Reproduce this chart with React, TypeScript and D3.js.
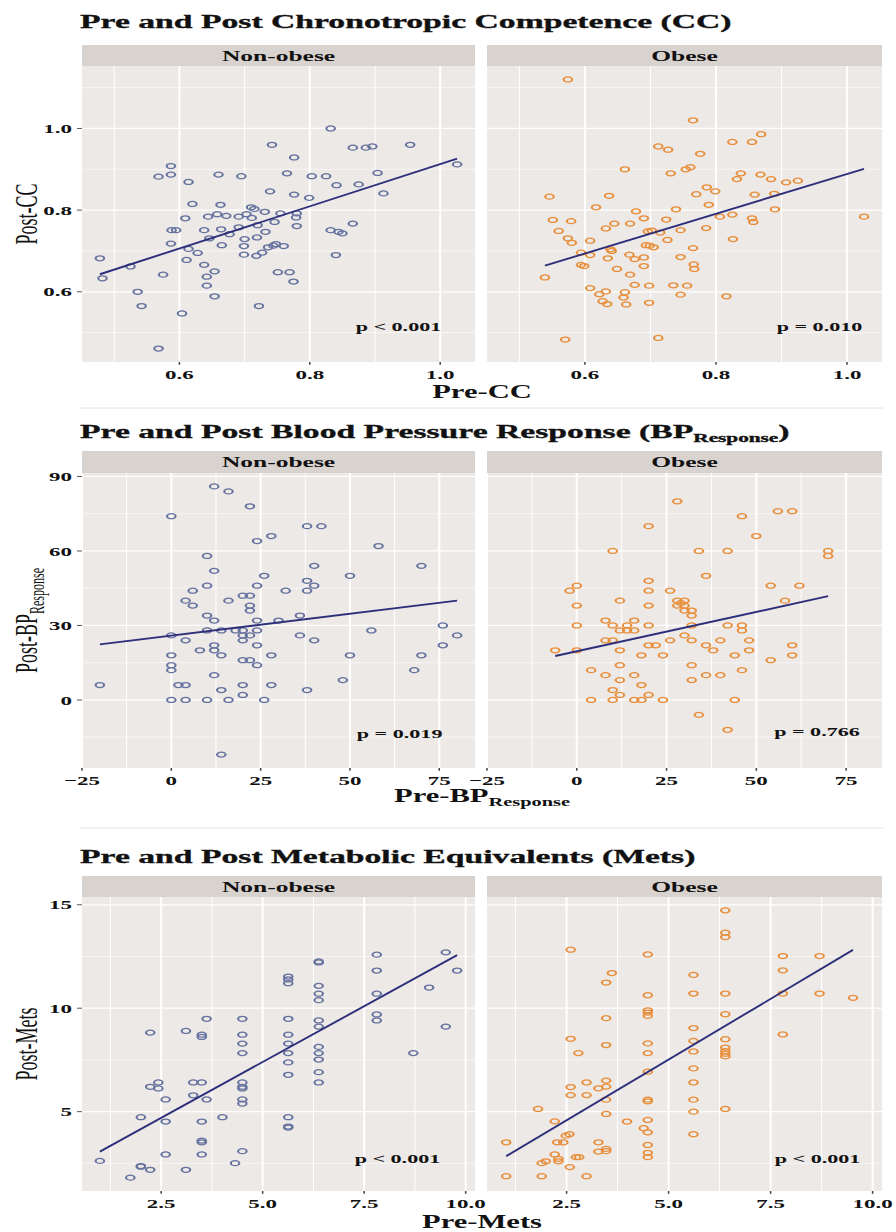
import * as d3 from "d3";

// the source figure was stretched sideways, so glyphs and dots come out wide
const SX = 1.7;
const SERIF = "'Liberation Serif', 'Times New Roman', serif";

const groups = ["Non-obese", "Obese"];
const dotColours = ["#66739f", "#e88f3c"];
const fitColour = "#2d2f7b";
const panelFill = "#ede9e7";
const stripFill = "#d9d3cf";

// ---- chronotropic competence ----
const ccNonObesePre = [0.478,0.482,0.525,0.536,0.542,0.568,0.568,0.575,0.587,0.587,0.587,0.588,0.595,0.604,0.609,0.611,0.614,0.614,0.620,0.628,0.638,0.638,0.642,0.642,0.644,0.646,0.654,0.654,0.658,0.660,0.663,0.664,0.665,0.672,0.677,0.691,0.691,0.695,0.699,0.699,0.700,0.703,0.710,0.711,0.715,0.718,0.719,0.720,0.722,0.727,0.731,0.732,0.736,0.739,0.742,0.744,0.746,0.748,0.751,0.755,0.760,0.765,0.769,0.775,0.776,0.776,0.779,0.780,0.780,0.799,0.803,0.825,0.832,0.832,0.840,0.841,0.844,0.850,0.866,0.866,0.875,0.886,0.896,0.904,0.913,0.954,1.026];
const ccNonObesePost = [0.682,0.633,0.662,0.600,0.565,0.882,0.461,0.642,0.908,0.887,0.718,0.751,0.751,0.547,0.780,0.678,0.869,0.705,0.815,0.695,0.751,0.666,0.637,0.615,0.784,0.731,0.650,0.589,0.790,0.887,0.813,0.753,0.714,0.786,0.741,0.784,0.758,0.883,0.712,0.691,0.729,0.790,0.807,0.781,0.803,0.688,0.733,0.763,0.565,0.696,0.796,0.747,0.709,0.846,0.960,0.713,0.771,0.717,0.648,0.792,0.712,0.890,0.648,0.625,0.929,0.838,0.782,0.761,0.792,0.830,0.883,0.883,1.000,0.751,0.690,0.861,0.747,0.743,0.953,0.767,0.863,0.953,0.956,0.891,0.841,0.960,0.912];
const ccObesePre = [0.574,0.765,0.869,0.825,0.855,0.712,0.727,0.776,0.661,0.754,0.761,0.731,0.838,0.832,0.868,0.884,0.907,0.925,0.546,0.637,0.770,0.786,0.799,0.859,0.889,0.617,0.789,0.739,0.890,0.551,0.579,0.678,0.690,0.724,0.806,0.825,0.855,0.857,1.026,0.560,0.632,0.645,0.669,0.696,0.702,0.715,0.746,0.785,0.574,0.580,0.608,0.594,0.608,0.639,0.641,0.635,0.693,0.699,0.705,0.726,0.765,0.826,0.668,0.676,0.690,0.746,0.766,0.767,0.594,0.599,0.649,0.690,0.539,0.669,0.676,0.698,0.735,0.756,0.608,0.622,0.632,0.661,0.659,0.627,0.634,0.663,0.698,0.746,0.816,0.570,0.712];
const ccObesePost = [1.120,1.020,0.986,0.967,0.967,0.956,0.948,0.938,0.900,0.900,0.905,0.890,0.890,0.876,0.887,0.876,0.868,0.872,0.833,0.835,0.839,0.856,0.846,0.838,0.840,0.807,0.813,0.802,0.802,0.776,0.773,0.797,0.780,0.777,0.784,0.789,0.780,0.771,0.784,0.749,0.755,0.767,0.767,0.748,0.750,0.745,0.751,0.756,0.731,0.720,0.725,0.696,0.690,0.704,0.700,0.682,0.714,0.713,0.709,0.727,0.707,0.729,0.691,0.680,0.684,0.685,0.667,0.656,0.666,0.663,0.656,0.663,0.635,0.642,0.617,0.615,0.616,0.615,0.609,0.594,0.601,0.599,0.586,0.577,0.570,0.569,0.573,0.593,0.589,0.483,0.487];
// fitted lines: [x start, y start, x end, y end]
const ccFits = [[0.478, 0.643, 1.026, 0.926], [0.539, 0.664, 1.026, 0.901]];
const ccPValues = ["p < 0.001", "p = 0.010"];
const ccXTicks = [0.6, 0.8, 1.0];
const ccYTicks = [0.6, 0.8, 1.0];

// ---- blood pressure response ----
const bpNonObesePre = [-20,0,0,0,0,0,0,2,4,4,4,4,6,6,8,10,10,10,10,10,12,12,12,12,12,12,14,14,14,14,16,16,16,18,20,20,20,20,20,20,20,22,22,22,22,22,22,24,24,24,24,24,24,26,26,28,28,28,30,32,36,36,38,38,38,38,40,40,40,42,48,50,50,56,58,68,70,70,76,76,80];
const bpNonObesePost = [6,74,18,14,12,0,26,6,24,40,6,0,44,38,20,58,46,34,28,0,86,52,32,22,20,10,28,18,4,-22,84,40,0,28,42,28,26,24,16,6,2,78,42,38,36,26,16,64,46,32,28,22,14,50,0,66,18,6,32,44,34,26,70,48,44,4,54,46,24,70,8,50,18,28,62,12,54,18,30,22,26];
const bpObesePre = [28,56,60,46,20,50,10,34,42,70,70,36,20,0,-2,20,26,54,62,0,12,20,28,29,30,28,30,30,32,32,58,0,8,10,12,14,14,16,16,20,32,42,46,46,8,10,26,30,32,40,48,-6,0,12,20,22,36,38,48,60,18,24,44,60,54,12,32,4,46,8,16,36,40,12,32,18,10,12,20,4,10,16,18,24,44,34,42];
const bpObesePost = [80,76,76,74,70,66,60,60,60,60,58,50,48,46,44,44,44,46,46,38,40,38,40,39,40,38,38,36,36,34,40,30,32,30,28,30,28,32,28,30,30,30,30,28,24,24,24,26,24,24,24,20,20,20,22,22,22,20,20,22,18,18,18,18,16,14,14,12,12,10,10,10,10,8,8,6,4,2,2,0,0,0,0,0,0,-6,-12];
const bpFits = [[-20, 22.4, 80, 40.0], [-6, 17.7, 70, 41.8]];
const bpPValues = ["p = 0.019", "p = 0.766"];
const bpXTicks = [-25, 0, 25, 50, 75];
const bpYTicks = [0, 30, 60, 90];

// ---- metabolic equivalents ----
const metsNonObesePre = [0.99,1.74,2.00,2.00,2.00,2.23,2.23,2.23,2.43,2.43,2.61,2.61,2.61,3.11,3.11,3.29,3.29,3.50,3.50,3.50,3.50,3.50,3.50,3.50,3.62,3.62,4.01,4.32,4.50,4.50,4.50,4.50,4.50,4.50,4.50,4.50,4.50,4.50,5.63,5.63,5.63,5.63,5.63,5.63,5.63,5.63,5.63,5.63,5.63,5.63,6.38,6.38,6.38,6.38,6.38,6.38,6.38,6.38,6.38,6.38,6.38,6.38,7.81,7.81,7.81,7.81,7.81,8.71,9.10,9.51,9.51,9.79];
const metsNonObesePost = [2.62,1.81,4.73,2.37,2.34,2.19,8.82,6.20,6.41,6.12,5.59,4.52,2.93,8.90,2.19,6.41,5.79,6.41,8.72,8.61,4.52,3.60,3.52,2.93,9.49,5.59,4.73,2.51,9.49,8.72,8.29,7.83,6.41,6.20,6.12,5.59,5.39,3.09,11.53,11.39,11.21,9.49,8.72,8.29,7.83,7.38,6.78,4.73,4.28,4.23,12.26,12.21,11.08,10.70,10.39,9.41,9.11,8.13,7.83,7.52,6.91,6.41,12.59,11.82,10.70,9.70,9.41,7.83,11.00,12.70,9.11,11.82];
const metsObesePre = [1.02,1.02,1.80,1.89,1.89,1.99,2.21,2.21,2.27,2.30,2.30,2.42,2.48,2.57,2.58,2.60,2.60,2.60,2.60,2.73,2.81,2.79,2.99,2.99,2.99,3.28,3.28,3.28,3.47,3.47,3.47,3.47,3.47,3.47,3.47,3.47,3.47,3.61,3.98,4.39,4.49,4.49,4.49,4.49,4.49,4.49,4.49,4.49,4.49,4.49,4.49,4.49,4.49,4.49,4.49,5.61,5.61,5.61,5.61,5.61,5.61,5.61,5.61,5.61,5.61,6.39,6.39,6.39,6.39,6.39,6.39,6.39,6.39,6.39,6.39,6.39,7.80,7.80,7.80,7.80,8.70,8.70,9.52];
const metsObesePost = [3.52,1.88,5.13,2.51,1.88,2.60,4.53,2.93,3.52,2.72,2.60,3.52,3.84,3.91,2.32,12.83,8.52,6.19,5.80,2.80,2.80,7.83,6.41,5.80,1.88,6.13,3.52,3.07,11.24,9.52,8.22,6.50,6.21,5.58,4.89,3.20,3.09,11.70,4.52,4.20,12.60,10.63,9.90,9.79,9.63,8.30,7.83,6.93,5.58,5.50,4.60,4.00,3.39,3.01,2.80,11.61,10.71,9.04,8.42,7.91,7.09,6.41,5.58,5.00,3.91,14.73,13.65,13.44,10.71,9.71,8.50,8.10,7.93,7.80,7.67,5.13,12.52,11.83,10.71,8.73,12.52,10.71,10.50];
const metsFits = [[0.99, 3.07, 9.79, 12.57], [1.02, 2.85, 9.52, 12.82]];
const metsPValues = ["p < 0.001", "p < 0.001"];
const metsXTicks = [2.5, 5.0, 7.5, 10.0];
const metsYTicks = [5, 10, 15];

// where each p label sits, in data units of its facet
const ccPAt = [[0.936, 0.514], [0.958, 0.514]];
const bpPAt = [[63.9, -13.4], [66.9, -12.8]];
const metsPAt = [[8.32, 2.72], [8.65, 2.72]];

const charts = [
  {
    title: ["Pre and Post Chronotropic Competence (CC)", "", ""],
    xName: ["Pre-CC", ""], yName: ["Post-CC", ""],
    pre: [ccNonObesePre, ccObesePre], post: [ccNonObesePost, ccObesePost],
    fits: ccFits, pValues: ccPValues, pAt: ccPAt,
    xTicks: ccXTicks, yTicks: ccYTicks, fmtX: d3.format(".1f"), fmtY: d3.format(".1f"),
    layout: { titleY: 28, stripTop: 45, panelTop: 66, panelBottom: 362, xTitleY: 398, sepY: 408 },
  },
  {
    title: ["Pre and Post Blood Pressure Response (BP", "Response", ")"],
    xName: ["Pre-BP", "Response"], yName: ["Post-BP", "Response"],
    pre: [bpNonObesePre, bpObesePre], post: [bpNonObesePost, bpObesePost],
    fits: bpFits, pValues: bpPValues, pAt: bpPAt,
    xTicks: bpXTicks, yTicks: bpYTicks, fmtX: d3.format("d"), fmtY: d3.format("d"),
    layout: { titleY: 438, stripTop: 451, panelTop: 473, panelBottom: 768, xTitleY: 802, sepY: 828 },
  },
  {
    title: ["Pre and Post Metabolic Equivalents (Mets)", "", ""],
    xName: ["Pre-Mets", ""], yName: ["Post-Mets", ""],
    pre: [metsNonObesePre, metsObesePre], post: [metsNonObesePost, metsObesePost],
    fits: metsFits, pValues: metsPValues, pAt: metsPAt,
    xTicks: metsXTicks, yTicks: metsYTicks, fmtX: d3.format(".1f"), fmtY: d3.format("d"),
    layout: { titleY: 863, stripTop: 876, panelTop: 897, panelBottom: 1191, xTitleY: 1228, sepY: 0 },
  },
];

const facetLeft = [82, 487];
const facetRight = [475, 882];

// ggplot style 5% padding around the data
function padded(values: number[]) {
  const [lo, hi] = d3.extent(values) as [number, number];
  const pad = (hi - lo) * 0.05;
  return [lo - pad, hi + pad];
}

function minorBreaks(major: number[], domain: number[]) {
  const step = major[1] - major[0];
  const out: number[] = [];
  for (let i = -1; i < major.length; i++) {
    const v = i < 0 ? major[0] - step / 2 : major[i] + step / 2;
    if (v >= domain[0] && v <= domain[1]) out.push(v);
  }
  return out;
}

function Label(props: any) {
  const { x, y, size, anchor = "start", weight = "bold", rotate = false, heavy = 0, children } = props;
  return (
    <text
      transform={`translate(${x},${y}) scale(${SX},1)${rotate ? " rotate(-90)" : ""}`}
      fontFamily={SERIF} fontSize={size} fontWeight={weight} textAnchor={anchor} fill="#111"
      stroke={heavy ? "#111" : "none"} strokeWidth={heavy}
    >
      {children}
    </text>
  );
}

function Chart({ c }: { c: any }) {
  const L = c.layout;
  const xDomain = padded([...c.pre[0], ...c.pre[1]]);
  const yDomain = padded([...c.post[0], ...c.post[1]]);
  const y = d3.scaleLinear().domain(yDomain).range([L.panelBottom, L.panelTop]);
  const yMinor = minorBreaks(c.yTicks, yDomain);
  const xMinor = minorBreaks(c.xTicks, xDomain);
  const midX = (facetLeft[0] + facetRight[1]) / 2;
  const midY = (L.panelTop + L.panelBottom) / 2;

  return (
    <g>
      <Label x={80} y={L.titleY} size={19.8} heavy={0.35}>
        {c.title[0]}
        {c.title[1] && <tspan fontSize={12.5} dy={4}>{c.title[1]}</tspan>}
        {c.title[2] && <tspan dy={-4}>{c.title[2]}</tspan>}
      </Label>

      {groups.map((g, k) => {
        const x = d3.scaleLinear().domain(xDomain).range([facetLeft[k], facetRight[k]]);
        const w = facetRight[k] - facetLeft[k];
        const fit = c.fits[k];
        return (
          <g key={g}>
            <rect x={facetLeft[k]} y={L.stripTop} width={w} height={L.panelTop - L.stripTop} fill={stripFill} />
            <Label x={(facetLeft[k] + facetRight[k]) / 2} y={L.stripTop + 15.5} size={15} anchor="middle">{g}</Label>
            <rect x={facetLeft[k]} y={L.panelTop} width={w} height={L.panelBottom - L.panelTop} fill={panelFill} />
            {yMinor.map((v) => (
              <line key={"ym" + v} x1={facetLeft[k]} x2={facetRight[k]} y1={y(v)} y2={y(v)} stroke="#fff" strokeWidth={0.6} />
            ))}
            {xMinor.map((v) => (
              <line key={"xm" + v} x1={x(v)} x2={x(v)} y1={L.panelTop} y2={L.panelBottom} stroke="#fff" strokeWidth={0.6 * SX} />
            ))}
            {c.yTicks.map((v: number) => (
              <line key={"y" + v} x1={facetLeft[k]} x2={facetRight[k]} y1={y(v)} y2={y(v)} stroke="#fff" strokeWidth={1.2} />
            ))}
            {c.xTicks.map((v: number) => (
              <line key={"x" + v} x1={x(v)} x2={x(v)} y1={L.panelTop} y2={L.panelBottom} stroke="#fff" strokeWidth={1.2 * SX} />
            ))}
            {c.pre[k].map((v: number, i: number) => (
              <circle
                key={i} r={2.5} fill="none" stroke={dotColours[k]} strokeWidth={1.25}
                transform={`translate(${x(v)},${y(c.post[k][i])}) scale(${SX},1)`}
              />
            ))}
            <line x1={x(fit[0])} y1={y(fit[1])} x2={x(fit[2])} y2={y(fit[3])} stroke={fitColour} strokeWidth={1.9} />
            <Label x={x(c.pAt[k][0])} y={y(c.pAt[k][1]) + 4.5} size={13} anchor="middle">{c.pValues[k]}</Label>
            {c.xTicks.map((v: number) => (
              <g key={"xt" + v}>
                <line x1={x(v)} x2={x(v)} y1={L.panelBottom} y2={L.panelBottom + 2.8} stroke="#444" strokeWidth={0.9 * SX} />
                <Label x={x(v)} y={L.panelBottom + 17} size={13.5} anchor="middle">{c.fmtX(v)}</Label>
              </g>
            ))}
          </g>
        );
      })}

      {c.yTicks.map((v: number) => (
        <g key={"yt" + v}>
          <line x1={facetLeft[0] - 5} x2={facetLeft[0]} y1={y(v)} y2={y(v)} stroke="#444" strokeWidth={0.9} />
          <Label x={72} y={y(v) + 4.6} size={13.5} anchor="end">{c.fmtY(v)}</Label>
        </g>
      ))}

      <Label x={midX} y={L.xTitleY} size={18} anchor="middle">
        {c.xName[0]}
        {c.xName[1] && <tspan fontSize={12} dy={4}>{c.xName[1]}</tspan>}
      </Label>
      <Label x={37} y={midY} size={18} anchor="middle" weight="normal" rotate>
        {c.yName[0]}
        {c.yName[1] && <tspan fontSize={12} dy={4}>{c.yName[1]}</tspan>}
      </Label>

      {L.sepY > 0 && <line x1={80} x2={884} y1={L.sepY} y2={L.sepY} stroke="#e4e4e4" strokeWidth={1} />}
    </g>
  );
}

export default function App() {
  return (
    <svg width={896} height={1232} style={{ position: "absolute", left: 0, top: 0, background: "#fff" }}>
      {charts.map((c, i) => (
        <Chart key={i} c={c} />
      ))}
    </svg>
  );
}
